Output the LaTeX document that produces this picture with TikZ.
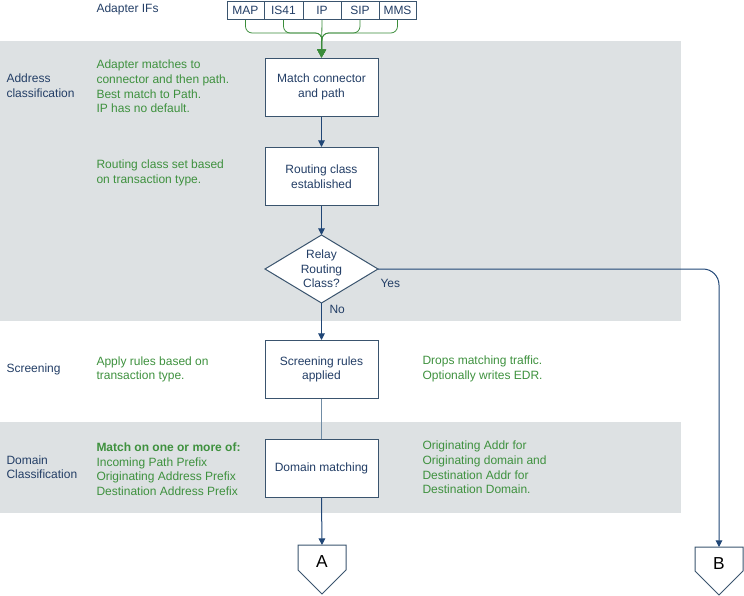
\documentclass[tikz,border=0pt]{standalone}
\usepackage{fontspec}
\setmainfont{Liberation Sans}
\usetikzlibrary{arrows.meta}

\definecolor{bandgray}{RGB}{221,225,227}
\definecolor{navytext}{RGB}{35,62,102}
\definecolor{greentext}{RGB}{62,145,62}
\definecolor{boxline}{RGB}{58,84,110}
\definecolor{flowline}{RGB}{32,70,118}
\definecolor{paleline}{RGB}{112,140,165}
\definecolor{greenline}{RGB}{58,140,58}

\tikzset{every picture/.style={line width=0.75pt}}
\tikzset{
  note/.style={anchor=west,inner sep=0.75pt,align=left,font=\fontsize{9}{10.9}\selectfont},
  notegreen/.style={note,text=greentext},
  noteblue/.style={note,text=navytext},
  procbox/.style={draw=boxline,fill=white,text=navytext,align=center,minimum width=84.75pt,minimum height=43.5pt,inner sep=1pt,font=\fontsize{9}{10.9}\selectfont},
  ifbox/.style={draw=boxline,fill=white,text=navytext,minimum height=13.5pt,inner sep=0pt,font=\fontsize{9}{10.9}\selectfont},
  flow/.style={draw=flowline,-{Triangle[width=5pt,length=5pt]}},
  feed/.style={draw=greenline,line width=0.6pt,rounded corners=5pt,-{Triangle[width=6.5pt,length=6pt]}},
}

\begin{document}
\begin{tikzpicture}[x=0.75pt,y=0.75pt,yscale=-1,xscale=1]
\useasboundingbox (0,0) rectangle (744,596);

%Shape: Rectangle [bands]
\fill [bandgray] (0,41) rectangle (681,321);
\fill [bandgray] (0,422) rectangle (681,513);

% Adapter IF boxes
\node [ifbox,minimum width=27.75pt] (map) at (245.5,10.5) {MAP};
\node [ifbox,minimum width=29.25pt] (isf) at (283.5,10.5) {IS41};
\node [ifbox,minimum width=28.5pt] (ip) at (322,10.5) {IP};
\node [ifbox,minimum width=28.5pt] (sip) at (360,10.5) {SIP};
\node [ifbox,minimum width=27.75pt] (mms) at (397.5,10.5) {MMS};

% Process boxes
\node [procbox] (match) at (321.5,87) {Match connector\\and path};
\node [procbox] (routing) at (321.5,176.5) {Routing class\\established};
\node [procbox] (screen) at (321.5,369.5) {Screening rules\\applied};
\node [procbox] (domain) at (321.5,468.5) {Domain matching};

%Shape: Diamond [relay]
\coordinate (dtop) at (321.5,235);
\coordinate (dright) at (378,269);
\coordinate (dbot) at (321.5,303);
\coordinate (dleft) at (265,269);
\draw [draw=boxline,fill=white] (dtop) -- (dright) -- (dbot) -- (dleft) -- cycle;
\node [text=navytext,align=center,inner sep=0.75pt,font=\fontsize{9}{10.9}\selectfont] (relay) at (321.5,269) {Relay\\Routing\\Class?};

%Shape: Off page [A]
\coordinate (atop) at (322,545);
\draw [draw=boxline,fill=white] (298,545) -- (346,545) -- (346,570) -- (322,594) -- (298,570) -- cycle;
\node [inner sep=0pt,font=\fontsize{13}{15}\selectfont] (offa) at (322,562) {A};
%Shape: Off page [B]
\coordinate (btop) at (719,547);
\draw [draw=boxline,fill=white] (695,547) -- (743,547) -- (743,571) -- (719,595) -- (695,571) -- cycle;
\node [inner sep=0pt,font=\fontsize{13}{15}\selectfont] (offb) at (719,564) {B};

% Green feeds
\coordinate (merge) at (322,33);
\draw [feed] (map.south) |- (merge) -- (match.north);
\draw [feed] (isf.south) |- (merge) -- (match.north);
\draw [feed] (ip.south) -- (match.north);
\draw [feed] (sip.south) |- (merge) -- (match.north);
\draw [feed] (mms.south) |- (merge) -- (match.north);

%Straight Lines [flow]
\draw [flow] (match.south) -- (routing.north);
\draw [flow] (routing.south) -- (dtop);
\draw [flow] (dbot) -- (screen.north);
\draw [draw=paleline,line width=1pt] (screen.south) -- (domain.north);
\draw [flow] (domain.south) -- (atop);
\draw [flow,rounded corners=12pt] (dright) -| (btop);

% Text Node
\node [noteblue] (adapt) at (95,9) {Adapter IFs};
% Text Node
\node [noteblue] (addrcl) at (5,85.5) {Address\\classification};
% Text Node
\node [notegreen] (addrnote) at (95,86.5) {Adapter matches to\\connector and then path.\\Best match to Path.\\IP has no default.};
% Text Node
\node [notegreen] (routnote) at (95,173) {Routing class set based\\on transaction type.};
% Text Node
\node [noteblue] (yes) at (379,283) {Yes};
% Text Node
\node [noteblue] (no) at (328,309) {No};
% Text Node
\node [noteblue] (scrcl) at (5,369) {Screening};
% Text Node
\node [notegreen] (scrnote) at (95,369.5) {Apply rules based on\\transaction type.};
% Text Node
\node [notegreen] (dropnote) at (421,369) {Drops matching traffic.\\Optionally writes EDR.};
% Text Node
\node [noteblue] (domcl) at (5,467) {Domain\\Classification};
% Text Node
\node [notegreen] (domnote) at (95,469) {\textbf{Match on one or more of:}\\Incoming Path Prefix\\Originating Address Prefix\\Destination Address Prefix};
% Text Node
\node [notegreen] (orignote) at (421,467.5) {Originating Addr for\\Originating domain and\\Destination Addr for\\Destination Domain.};

\end{tikzpicture}
\end{document}
